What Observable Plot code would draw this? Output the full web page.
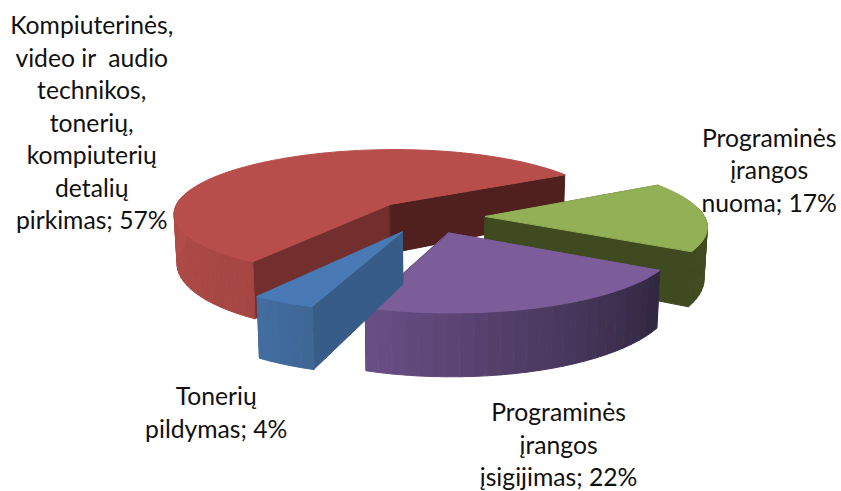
<!DOCTYPE html>
<html><head><meta charset="utf-8">
<script src="https://cdn.jsdelivr.net/npm/d3@7"></script>
<script src="https://cdn.jsdelivr.net/npm/@observablehq/plot@0.6"></script>
<style>html,body{margin:0;padding:0;background:#fff}svg{display:block}</style>
</head><body><div id="chart"></div>
<script>
// Data, clockwise from the purple/blue boundary
const categories = ["Tonerių\npildymas", "Kompiuterinės,\nvideo ir\u00a0 audio\ntechnikos,\ntonerių,\nkompiuterių\ndetalių\npirkimas", "Programinės\nįrangos\nnuoma", "Programinės\nįrangos\nįsigijimas"];
const values = [4, 57, 17, 22];
const topColors = ["#4a7ab5", "#b84e4b", "#93b056", "#7c5d99"];
const wallStart = ["#3e6795", "#a54643", "#454f23", "#30263f"];
const wallEnd = ["#436da2", "#b34d4a", "#3f4a20", "#6a4f86"];
const faceInColors = ["#385c88", "#4f201e", "#3f4a20", "#30263f"];
const faceOutColors = ["#385c88", "#722f2d", "#3f4a20", "#6a4f86"];
const labelOffsets = [[-67, 109], [-167, -42], [65, -47], [18, 136]];
const drawOrder = [1, 2, 3, 0];

// Layout of the 3D view
const view = {cx: 428, cy: 216, a: 219, b: 65, depth: 51, taper: 0.07, k: 0.13, m: 0.012, explode: 0.26, start: 199.5, visFrom: 82, visTo: 278};
const rad = d => d * Math.PI / 180;
function project(X, Y, Z) {
  const s = 1 / (1 + view.k * Y + view.m * Z);
  return {x: view.cx + view.a * X * s, y: view.cy - view.b * Y * s + view.depth * (1 - view.taper * Y) * Z * s};
}
const total = d3.sum(values);
let acc = view.start;
const slices = values.map((v, i) => {
  if (acc >= 360) acc -= 360;
  const t0 = acc, t1 = acc + v / total * 360; acc = t1;
  const mid = (t0 + t1) / 2;
  return {i, t0, t1, mid, ox: view.explode * Math.sin(rad(mid)), oy: view.explode * Math.cos(rad(mid))};
});
const rim = (s, t, Z) => project(s.ox + Math.sin(rad(t)), s.oy + Math.cos(rad(t)), Z);
const hub = (s, Z) => project(s.ox, s.oy, Z);

const polys = [];
let id = 0;
const pushPoly = (pts, color) => { const z = id++; pts.forEach(p => polys.push({...p, z, color})); };

for (const n of drawOrder) {
  const s = slices[n];
  const steps = Math.max(8, Math.round((s.t1 - s.t0) / 2));
  const ts = d3.range(steps + 1).map(j => s.t0 + (s.t1 - s.t0) * j / steps);
  // radial walls
  pushPoly([hub(s, 0), rim(s, s.t0, 0), rim(s, s.t0, 1), hub(s, 1)], faceOutColors[n]);
  pushPoly([hub(s, 0), rim(s, s.t1, 0), rim(s, s.t1, 1), hub(s, 1)], faceInColors[n]);
  // outer wall, shaded along its visible part
  const shade = d3.interpolateRgb(wallStart[n], wallEnd[n]);
  const from = Math.max(s.t0, view.visFrom), to = Math.min(s.t1, view.visTo);
  const bands = Math.max(3, Math.round((to - from) / 3));
  for (let j = 0; j < bands; j++) {
    const a = from + (to - from) * j / bands, b = from + (to - from) * (j + 1) / bands;
    pushPoly([rim(s, a, 0), rim(s, b, 0), rim(s, b, 1), rim(s, a, 1)], shade((j + 0.5) / bands));
  }
  // top face
  pushPoly([hub(s, 0), ...ts.map(t => rim(s, t, 0))], topColors[n]);
}

const labels = slices.map((s, i) => {
  const p = rim(s, s.mid, 0);
  return {x: p.x + labelOffsets[i][0], y: p.y + labelOffsets[i][1], text: `${categories[i]}; ${values[i]}%`};
});

const chart = Plot.plot({
  width: 841, height: 491, margin: 0,
  x: {domain: [0, 841], range: [0, 841], axis: null},
  y: {domain: [0, 491], range: [0, 491], axis: null},
  color: {type: "identity"},
  style: {background: "#fff"},
  marks: [
    Plot.line(polys, {x: "x", y: "y", z: "z", fill: "color", stroke: "color", strokeWidth: 1, curve: "linear-closed"}),
    Plot.text(labels, {x: "x", y: "y", text: "text", fontFamily: "Lato", fontSize: 24.7, lineHeight: 1.316, fill: "#111", textAnchor: "middle", lineAnchor: "middle"})
  ]
});
document.getElementById("chart").append(chart);
</script></body></html>
